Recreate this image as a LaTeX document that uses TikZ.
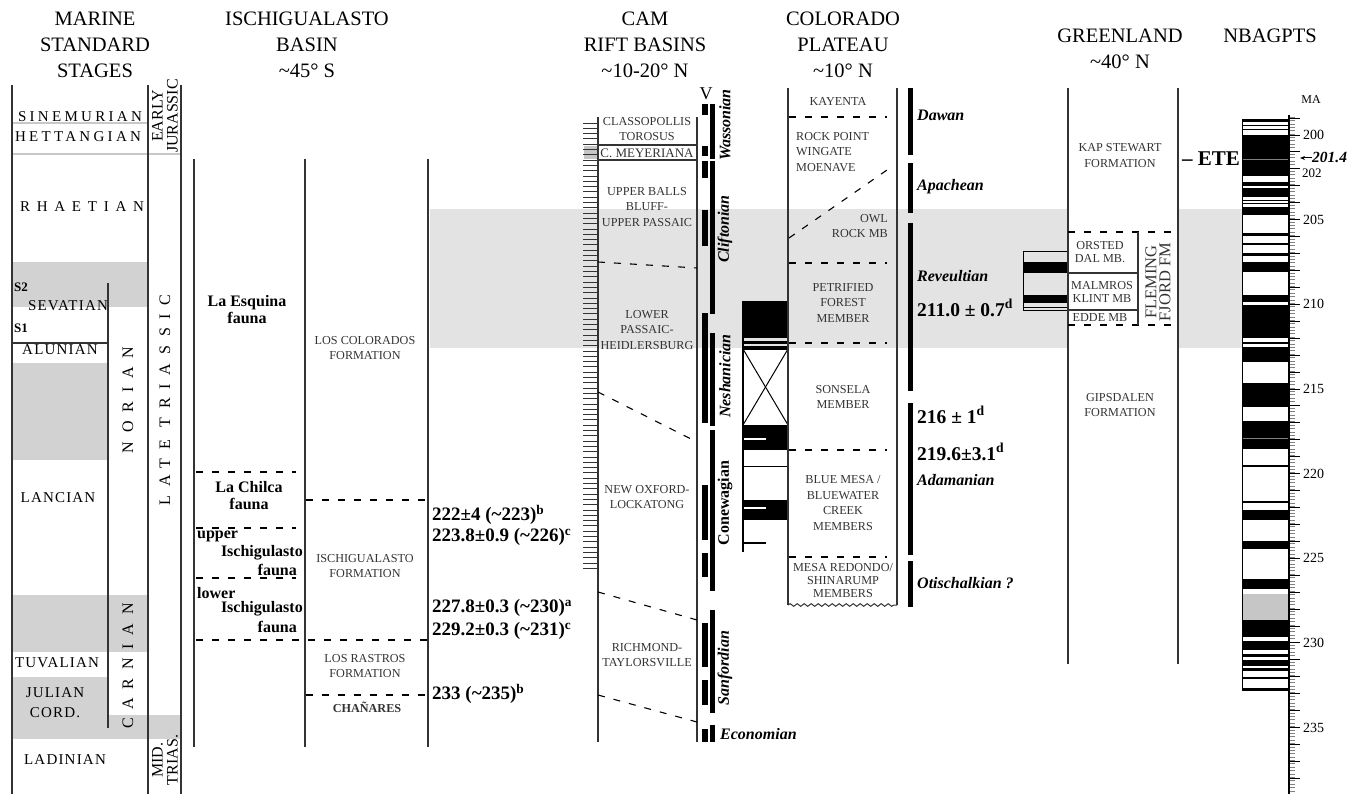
\documentclass[tikz,border=0pt]{standalone}
\usepackage{fontspec}
\setmainfont{Liberation Serif}
\newfontfamily\spA[LetterSpace=8]{Liberation Serif}
\newfontfamily\spB[LetterSpace=22]{Liberation Serif}
\newfontfamily\spC[LetterSpace=45]{Liberation Serif}
\newfontfamily\spD[LetterSpace=55]{Liberation Serif}
\usetikzlibrary{decorations.pathmorphing,arrows.meta}
\definecolor{bandgray}{HTML}{E3E3E3}
\definecolor{stagegray}{HTML}{D2D2D2}
\definecolor{ln}{HTML}{333333}
\definecolor{polgray}{HTML}{C6C6C6}
\definecolor{sepgray}{HTML}{C8C8C8}
\tikzset{
  colline/.style={draw=ln, line width=1.3pt},
  dashln/.style={draw=black, line width=1.1pt, dash pattern=on 7pt off 9pt},
  hdr/.style={font=\fontsize{20.5}{26}\selectfont, align=center, inner sep=0pt},
  stage/.style={font=\spA\fontsize{15}{20}\selectfont, inner sep=0pt, align=center},
  stageB/.style={font=\spB\fontsize{15}{20}\selectfont, inner sep=0pt},
  stageC/.style={font=\spC\fontsize{15}{20}\selectfont, inner sep=0pt},
  vletters/.style={font=\spD\fontsize{16}{18}\selectfont, inner sep=0pt, rotate=90},
  vsmall/.style={font=\fontsize{16}{15}\selectfont, inner sep=0pt, rotate=90, align=center},
  small/.style={font=\fontsize{12.2}{15.5}\selectfont, inner sep=0pt, align=center, text=ln},
  smalltight/.style={font=\fontsize{12.2}{13}\selectfont, inner sep=0pt, align=center, text=ln},
  fauna/.style={font=\fontsize{16}{17}\selectfont\bfseries, inner sep=0pt, align=center},
  date/.style={font=\fontsize{19}{20}\selectfont\bfseries, inner sep=0pt, anchor=west},
  bio/.style={font=\fontsize{16}{17}\selectfont\bfseries\itshape, inner sep=0pt},
  tick/.style={draw=ln, line width=0.8pt},
  scalelab/.style={font=\fontsize{14}{15}\selectfont, inner sep=0pt, anchor=west},
}
\begin{document}
\begin{tikzpicture}[x=1pt,y=-1pt]
\useasboundingbox (0,0) rectangle (1356,794);

% ---------- gray correlation band ----------
\fill[bandgray] (430,209) rectangle (1242,348);
\fill[white] (1068,209) rectangle (1178,348);

% ---------- headers ----------
\node[hdr] (h1) at (95,45) {MARINE\\STANDARD\\STAGES};
\node[hdr] (h2) at (307,45) {ISCHIGUALASTO\\BASIN\\\textasciitilde45° S};
\node[hdr] (h3) at (645,45) {CAM\\RIFT BASINS\\\textasciitilde10-20° N};
\node[hdr] (h4) at (843,45) {COLORADO\\PLATEAU\\\textasciitilde10° N};
\node[hdr] (h5) at (1120,49) {GREENLAND\\\textasciitilde40° N};
\node[hdr] (h6) at (1270,36) {NBAGPTS};

% ---------- marine standard stages ----------
\fill[stagegray] (12,262) rectangle (148,307);
\fill[stagegray] (12,363) rectangle (108,460);
\fill[stagegray] (12,595) rectangle (148,652);
\fill[stagegray] (12,677) rectangle (108,739);
\fill[stagegray] (108,715) rectangle (181,739);
\draw[sepgray, line width=2pt] (12,123) -- (148,123);
\draw[sepgray, line width=2pt] (12,154) -- (181,154);
\draw[colline] (12,85) -- (12,794);
\draw[colline] (148,85) -- (148,794);
\draw[colline] (181,85) -- (181,794);
\draw[colline] (108,283) -- (108,728);
\draw[colline] (12,343) -- (108,343);

\node[stageB] (sin) at (80,117) {SINEMURIAN};
\node[stageB] (het) at (78,137) {HETTANGIAN};
\node[stageC] (rha) at (82,207) {RHAETIAN};
\node[font=\fontsize{13}{14}\selectfont\bfseries, inner sep=0pt, anchor=west] (s2) at (14,287) {S2};
\node[stage] (sev) at (68,306) {SEVATIAN};
\node[font=\fontsize{13}{14}\selectfont\bfseries, inner sep=0pt, anchor=west] (s1) at (14,328) {S1};
\node[stage] (alu) at (60,350) {ALUNIAN};
\node[stage] (lan) at (58,498) {LANCIAN};
\node[stage] (tuv) at (57,663) {TUVALIAN};
\node[stage] (jul) at (55,703) {JULIAN\\CORD.};
\node[stage] (lad) at (65,760) {LADINIAN};
\node[vletters] (nor) at (128,400) {NORIAN};
\node[vletters] (car) at (128,666) {CARNIAN};
\node[vletters] (lt) at (165,400) {LATE TRIASSIC};
\node[vsmall] (ej) at (165,116) {EARLY\\JURASSIC};
\node[vsmall] (mt) at (165,760) {MID.\\TRIAS.};

% ---------- Ischigualasto basin ----------
\draw[colline] (194,159) -- (194,747);
\draw[colline] (305,159) -- (305,747);
\draw[colline] (428,159) -- (428,747);
\draw[dashln] (196,472) -- (296,472);
\draw[dashln] (306,500) -- (428,500);
\draw[dashln] (196,528) -- (296,528);
\draw[dashln] (196,578) -- (296,578);
\draw[dashln] (196,640) -- (428,640);
\draw[dashln] (306,695) -- (428,695);

\node[fauna] (esq) at (247,310) {La Esquina\\fauna};
\node[small] (colo) at (365,348) {LOS COLORADOS\\FORMATION};
\node[fauna] (chil) at (249,496) {La Chilca\\fauna};
\node[fauna, anchor=west] (up) at (197,536) {upper};
\node[fauna, anchor=east] (upi) at (303,553) {Ischigulasto};
\node[fauna, anchor=east] (upf) at (297,570) {fauna};
\node[fauna, anchor=west] (lo) at (197,593) {lower};
\node[fauna, anchor=east] (loi) at (303,609) {Ischigulasto};
\node[fauna, anchor=east] (lof) at (297,627) {fauna};
\node[small] (isf) at (365,566) {ISCHIGUALASTO\\FORMATION};
\node[small] (ras) at (365,666) {LOS RASTROS\\FORMATION};
\node[font=\fontsize{12.2}{14}\selectfont\bfseries, inner sep=0pt, text=ln] (cha) at (367,707) {CHAÑARES};

\node[date] (d1) at (432,515) {222±4 (\textasciitilde223)\textsuperscript{b}};
\node[date] (d2) at (432,537) {223.8±0.9 (\textasciitilde226)\textsuperscript{c}};
\node[date] (d3) at (432,608) {227.8±0.3 (\textasciitilde230)\textsuperscript{a}};
\node[date] (d4) at (432,631) {229.2±0.3 (\textasciitilde231)\textsuperscript{c}};
\node[date] (d5) at (432,694) {233 (\textasciitilde235)\textsuperscript{b}};

% ---------- CAM rift basins ----------
\fill[polgray] (584,146) rectangle (597,159);
\foreach \i in {0,...,84} \draw[tick] (583,{123+\i*5.3}) -- (598,{123+\i*5.3});
\draw[colline] (598,117) -- (598,742);
\draw[colline] (697,117) -- (697,742);
\draw[colline] (598,145) -- (697,145);
\draw[colline] (598,160) -- (697,160);
\draw[dashln] (598,262) -- (697,268);
\draw[dashln] (598,392) -- (697,442);
\draw[dashln] (598,592) -- (697,620);
\draw[dashln] (598,695) -- (697,722);

\node[small] (cla) at (647,129) {CLASSOPOLLIS\\TOROSUS};
\node[font=\fontsize{13}{14}\selectfont, inner sep=0pt, text=ln] (mey) at (647,153) {C. MEYERIANA};
\node[small] (ubb) at (647,207) {UPPER BALLS\\BLUFF-\\UPPER PASSAIC};
\node[small] (lph) at (647,330) {LOWER\\PASSAIC-\\HEIDLERSBURG};
\node[small] (nol) at (647,497) {NEW OXFORD-\\LOCKATONG};
\node[small] (rt) at (647,655) {RICHMOND-\\TAYLORSVILLE};
\node[font=\fontsize{18}{19}\selectfont, inner sep=0pt] (v) at (706,94) {V};

\foreach \a/\b in {104/115,146/156,161/178,210/246,313/423,485/540,553/577,623/667,680/705,729/742}
  \fill (702,\a) rectangle (708,\b);
\foreach \a/\b in {104/159,161/314,333/426,430/591,610/713,725/742}
  \fill (709.5,\a) rectangle (715,\b);

\node[bio, rotate=90] (was) at (725,125) {Wassonian};
\node[bio, rotate=90] (cli) at (725,229) {Cliftonian};
\node[bio, rotate=90] (nes) at (725,376) {Neshanician};
\node[font=\fontsize{16}{17}\selectfont\bfseries, inner sep=0pt, rotate=90] (con) at (725,503) {Conewagian};
\node[bio, rotate=90] (san) at (725,668) {Sanfordian};
\node[bio, anchor=west] (eco) at (720,734) {Economian};

% ---------- Colorado polarity column ----------
\fill (743,301) rectangle (788,338);
\fill (743,341) rectangle (788,343.5);
\fill (743,346) rectangle (788,349);
\draw[line width=1pt] (743,349) rectangle (788,425);
\draw[line width=1pt] (743,349) -- (788,425);
\draw[line width=1pt] (788,349) -- (743,425);
\fill (743,425) rectangle (788,450);
\draw[white, line width=1.5pt] (743,439) -- (766,439);
\draw[line width=1pt] (743,466) -- (788,466);
\fill (743,500) rectangle (788,520);
\draw[white, line width=1.5pt] (743,508) -- (766,508);
\draw[line width=1.2pt] (743,301) -- (743,552);
\draw[line width=1.2pt] (743,543) -- (766,543);

% ---------- Colorado plateau ----------
\draw[colline] (788,88) -- (788,605);
\draw[colline] (897,88) -- (897,605);
\draw[ln, line width=1pt, decorate, decoration={snake, amplitude=1.3pt, segment length=7pt}] (788,605) -- (897,605);
\draw[dashln] (789,117) -- (887,117);
\draw[dashln] (789,238) -- (887,170);
\draw[dashln] (789,263) -- (887,263);
\draw[dashln] (789,343) -- (887,343);
\draw[dashln] (789,450) -- (887,450);
\draw[dashln] (789,557) -- (887,557);

\node[small] (kay) at (838,101) {KAYENTA};
\node[small, align=left, anchor=west] (rpw) at (796,152) {ROCK POINT\\WINGATE\\MOENAVE};
\node[small, align=right, anchor=east] (owl) at (888,226) {OWL\\ROCK MB};
\node[small] (pet) at (843,303) {PETRIFIED\\FOREST\\MEMBER};
\node[small] (son) at (843,397) {SONSELA\\MEMBER};
\node[small] (blu) at (843,503) {BLUE MESA /\\BLUEWATER\\CREEK\\MEMBERS};
\node[smalltight] (mes) at (843,581) {MESA REDONDO/\\SHINARUMP\\MEMBERS};

\foreach \a/\b in {88/155,163/213,223/391,403/555,561/607}
  \fill (908,\a) rectangle (913,\b);
\node[bio, anchor=west] (daw) at (917,115) {Dawan};
\node[bio, anchor=west] (apa) at (917,187) {Apachean};
\node[bio, anchor=west] (rev) at (917,276) {Reveultian};
\node[date, font=\fontsize{19.5}{20}\selectfont\bfseries] (c1) at (917,308) {211.0 ± 0.7\textsuperscript{d}};
\node[date, font=\fontsize{19.5}{20}\selectfont\bfseries] (c2) at (917,415) {216 ± 1\textsuperscript{d}};
\node[date, font=\fontsize{19.5}{20}\selectfont\bfseries] (c3) at (917,452) {219.6±3.1\textsuperscript{d}};
\node[bio, anchor=west] (ada) at (917,480) {Adamanian};
\node[bio, anchor=west] (oti) at (917,583) {Otischalkian ?};

% ---------- Greenland ----------
\draw[line width=1pt] (1023,252) rectangle (1068,310);
\fill (1023,262) rectangle (1068,273);
\fill (1023,295) rectangle (1068,303);
\draw[line width=1pt] (1023,307) -- (1068,307);
\draw[colline] (1068,88) -- (1068,664);
\draw[colline] (1178,88) -- (1178,664);
\draw[dashln] (1068,232) -- (1178,232);
\draw[dashln] (1068,325) -- (1178,325);
\draw[colline] (1138,232) -- (1138,325);
\draw[colline] (1068,273) -- (1138,273);
\draw[colline] (1068,310) -- (1138,310);
\node[small] (kap) at (1120,155.5) {KAP STEWART\\FORMATION};
\node[smalltight] (ors) at (1100,252.5) {ORSTED\\DAL MB.};
\node[smalltight] (mal) at (1102,291.5) {MALMROS\\KLINT MB};
\node[smalltight] (edd) at (1100,318) {EDDE MB};
\node[small] (gip) at (1120,405) {GIPSDALEN\\FORMATION};
\node[font=\fontsize{16.5}{14}\selectfont, inner sep=0pt, rotate=90, align=center, text=ln] (fle) at (1158,282) {FLEMING\\FJORD FM};
\node[font=\fontsize{21}{22}\selectfont\bfseries, anchor=west, inner sep=0pt] (ete) at (1182,159) {– ETE};

% ---------- NBAGPTS ----------
\fill[white] (1242,120) rectangle (1289,690);
\foreach \a/\b in {120/122,125/126.5,129/130.5,135/176,182/186,188/197,200/201,203/204,207/215,233/236,243/245,253/256,262/272,295/302,305/338,342/343.5,347/362,383/407,421/449,465/467,501/503,510/520,541/549,579/589,620/637,641/650,654/657,660/666,668/671,677/679,688/690}
  \fill (1242,\a) rectangle (1289,\b);
\fill[polgray] (1242,594) rectangle (1289,620);
\draw[gray, line width=0.7pt] (1242,159) -- (1289,159);
\draw[gray, line width=0.7pt] (1242,438) -- (1289,438);
\draw[line width=1pt] (1242,120) rectangle (1289,690);
\foreach \i in {0,...,199} \draw[gray, line width=0.5pt] (1289,{117+\i*3.386}) -- (1295,{117+\i*3.386});
\foreach \a in {199,...,238} \draw[line width=0.9pt] (1289,{135+(\a-200)*16.93}) -- (1300,{135+(\a-200)*16.93});
\draw[line width=1.2pt] (1289,115) -- (1289,794);
\node[font=\fontsize{12}{13}\selectfont, inner sep=0pt] (ma) at (1311,100) {MA};
\foreach \v in {200,205,210,215,220,225,230,235}
  \node[scalelab] at (1303,{135+(\v-200)*16.93}) {\v};
\node[scalelab, font=\fontsize{13}{14}\selectfont] (l202) at (1302,173) {202};
\node[font=\fontsize{15.5}{16}\selectfont\bfseries\itshape, anchor=west, inner sep=0pt] (e14) at (1312,157) {201.4};
\coordinate (arr) at (1300,158);
\draw[line width=1pt, -{Stealth[length=5pt,width=4pt]}] (e14.west |- arr) -- (arr);
\end{tikzpicture}
\end{document}
